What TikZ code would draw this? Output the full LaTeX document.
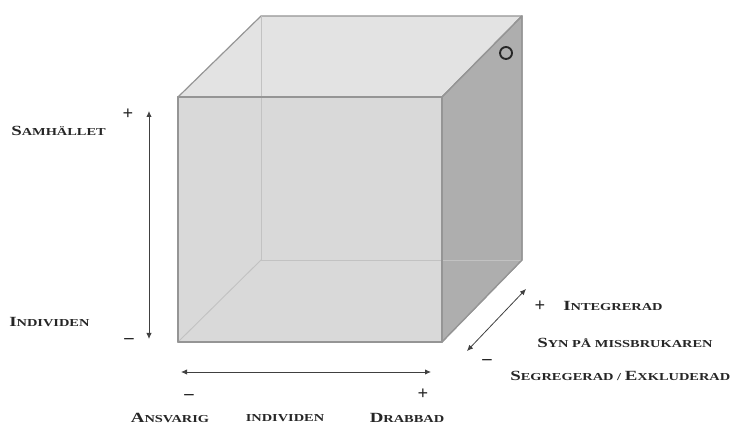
\documentclass[tikz,border=0pt]{standalone}
\usepackage{fontspec}
\usepackage{graphicx}
\setmainfont{Liberation Serif}
\usetikzlibrary{arrows.meta}
\definecolor{frontc}{HTML}{D9D9D9}
\definecolor{topc}{HTML}{E3E3E3}
\definecolor{sidec}{HTML}{AEAEAE}
\definecolor{edgec}{HTML}{959595}
\definecolor{innerc}{HTML}{C2C2C2}
\newcommand{\capL}[1]{{\fontsize{10.5}{12}\selectfont #1}}
\newcommand{\capS}[1]{{\fontsize{8}{10}\selectfont #1}}
\newcommand{\wide}[1]{\scalebox{1.35}[1]{#1}}
\tikzset{
  face/.style={draw=edgec, line width=0.9pt, line join=round},
  inner/.style={draw=innerc, line width=0.7pt},
  axis/.style={draw=black!75, line width=0.6pt, {Latex[length=4.5pt,width=4pt]}-{Latex[length=4.5pt,width=4pt]}},
  lbl/.style={inner sep=0pt, font=\bfseries, text=black!85},
  sgn/.style={inner sep=0pt, font=\bfseries\fontsize{14}{15}\selectfont, text=black!85}
}
\begin{document}
\begin{tikzpicture}[x=0.75pt,y=-0.75pt]
\useasboundingbox (0,0) rectangle (739,427);
% cube corners
\coordinate (ftl) at (178,97);
\coordinate (ftr) at (442,97);
\coordinate (fbl) at (178,342);
\coordinate (fbr) at (442,342);
\coordinate (btl) at (261,16);
\coordinate (btr) at (522,16);
\coordinate (bbl) at (261,260);
\coordinate (bbr) at (522,260);
% faces
\path[face, fill=topc] (ftl) -- (btl) -- (btr) -- (ftr) -- cycle;
\path[face, fill=sidec] (ftr) -- (btr) -- (bbr) -- (fbr) -- cycle;
\path[face, fill=frontc] (ftl) -- (ftr) -- (fbr) -- (fbl) -- cycle;
% hidden edges
\draw[inner] (btl) -- (bbl);
\draw[inner] (bbl) -- (bbr);
\draw[inner] (bbl) -- (fbl);
% redraw front edges
\draw[face] (ftl) -- (ftr) -- (fbr) -- (fbl) -- cycle;
\draw[face] (ftr) -- (btr) -- (bbr) -- (fbr);
% small circle
\node[circle, draw=black!85, line width=1.4pt, minimum size=9pt, inner sep=0pt] (ring) at (506,53) {};
% vertical axis
\coordinate (vtop) at (149,111);
\coordinate (vbot) at (149,339);
\draw[axis] (vbot) -- (vtop);
\node[sgn] (vplus) at (128,114) {+};
\node[sgn] (vminus) at (129,341) {\textendash};
\node[lbl, anchor=west] (samh) at (11,131) {\wide{\capL{S}\capS{AMHÄLLET}}};
\node[lbl, anchor=west] (indiv) at (9,322) {\wide{\capL{I}\capS{NDIVIDEN}}};
% horizontal axis
\coordinate (hl) at (181,372);
\coordinate (hr) at (431,372);
\draw[axis] (hl) -- (hr);
\node[sgn] (hminus) at (189,397) {\textendash};
\node[sgn] (hplus) at (423,394) {+};
\node[lbl] (ansv) at (170,418) {\wide{\capL{A}\capS{NSVARIG}}};
\node[lbl] (indb) at (285,418) {\wide{\capS{INDIVIDEN}}};
\node[lbl] (drab) at (407,418) {\wide{\capL{D}\capS{RABBAD}}};
% diagonal axis
\coordinate (dl) at (467,351);
\coordinate (dr) at (526,289);
\draw[axis] (dl) -- (dr);
\node[sgn] (dplus) at (540,306) {+};
\node[sgn] (dminus) at (487,362) {\textendash};
\node[lbl, anchor=west] (integ) at (563,306) {\wide{\capL{I}\capS{NTEGRERAD}}};
\node[lbl, anchor=west] (syn) at (537,343) {\wide{\capL{S}\capS{YN PÅ MISSBRUKAREN}}};
\node[lbl, anchor=west] (segr) at (510,376) {\wide{\capL{S}\capS{EGREGERAD / }\capL{E}\capS{XKLUDERAD}}};
\end{tikzpicture}
\end{document}
